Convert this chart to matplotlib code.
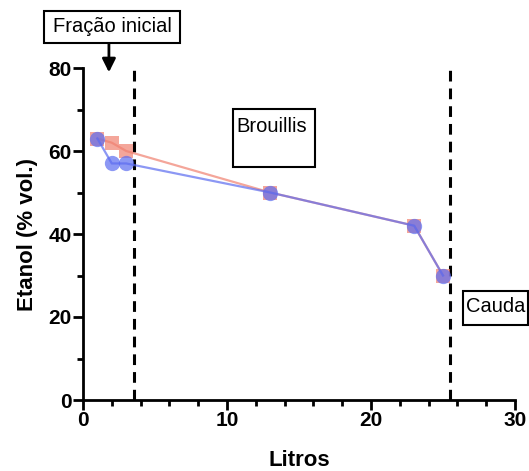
import matplotlib.pyplot as plt
from matplotlib.patches import Rectangle
from matplotlib.ticker import MultipleLocator

plt.rcParams['font.family'] = ['Liberation Sans', 'DejaVu Sans']

litros = [1, 2, 3, 13, 23, 25]
etanol_a = [63, 62, 60, 50, 42, 30]   # squares (red)
etanol_b = [63, 57, 57, 50, 42, 30]   # circles (blue)
cortes = [3.55, 25.5]

W, H = 529, 471
fig = plt.figure(figsize=(W / 100, H / 100), dpi=100)
ax = fig.add_axes([83 / W, 1 - 400 / H, 432 / W, 332 / H])

ax.plot(litros, etanol_a, color='#f08070', marker='s', markersize=10, mew=0, lw=1.6, alpha=0.7, zorder=3)
ax.plot(litros, etanol_b, color='#5c6cf0', marker='o', markersize=11, mew=0, lw=1.6, alpha=0.7, zorder=4)

for c in cortes:
    ax.axvline(c, color='black', ls=(0, (3.5, 2.3)), lw=2.2, zorder=2)

ax.set_xlim(0, 30)
ax.set_ylim(0, 80)
ax.xaxis.set_major_locator(MultipleLocator(10))
ax.xaxis.set_minor_locator(MultipleLocator(2))
ax.yaxis.set_major_locator(MultipleLocator(20))
ax.yaxis.set_minor_locator(MultipleLocator(10))
for s in ['top', 'right']:
    ax.spines[s].set_visible(False)
for s in ['left', 'bottom']:
    ax.spines[s].set_linewidth(2)
ax.tick_params(which='major', length=7, width=2, labelsize=15, pad=1)
ax.tick_params(which='minor', length=4.5, width=2)
for lab in ax.get_xticklabels() + ax.get_yticklabels():
    lab.set_fontweight('bold')
ax.set_xlabel('Litros', fontsize=16, fontweight='bold', labelpad=14)
ax.set_ylabel('Etanol (% vol.)', fontsize=16, fontweight='bold', labelpad=8)


def caixa(x0, y0, x1, y1, texto, tx, ty):
    # box in pixel coords (top-left origin)
    fig.add_artist(Rectangle((x0 / W, 1 - y1 / H), (x1 - x0) / W, (y1 - y0) / H,
                             transform=fig.transFigure, fc='white', ec='black', lw=1.5, zorder=5))
    fig.text(tx / W, 1 - ty / H, texto, fontsize=14.5, ha='center', va='center', zorder=6)


caixa(44, 11, 180, 43, 'Fração inicial', 112, 27)
caixa(233, 109, 315, 167, 'Brouillis', 272, 126)
caixa(463, 291, 528, 325, 'Cauda', 496, 307)

ax.annotate('', xy=(1.8, 78.3), xytext=(1.8, 87.5), xycoords='data', annotation_clip=False,
            arrowprops=dict(arrowstyle='-|>,head_width=0.4,head_length=0.8', color='black', lw=2))

fig.savefig('out.png', dpi=100)
